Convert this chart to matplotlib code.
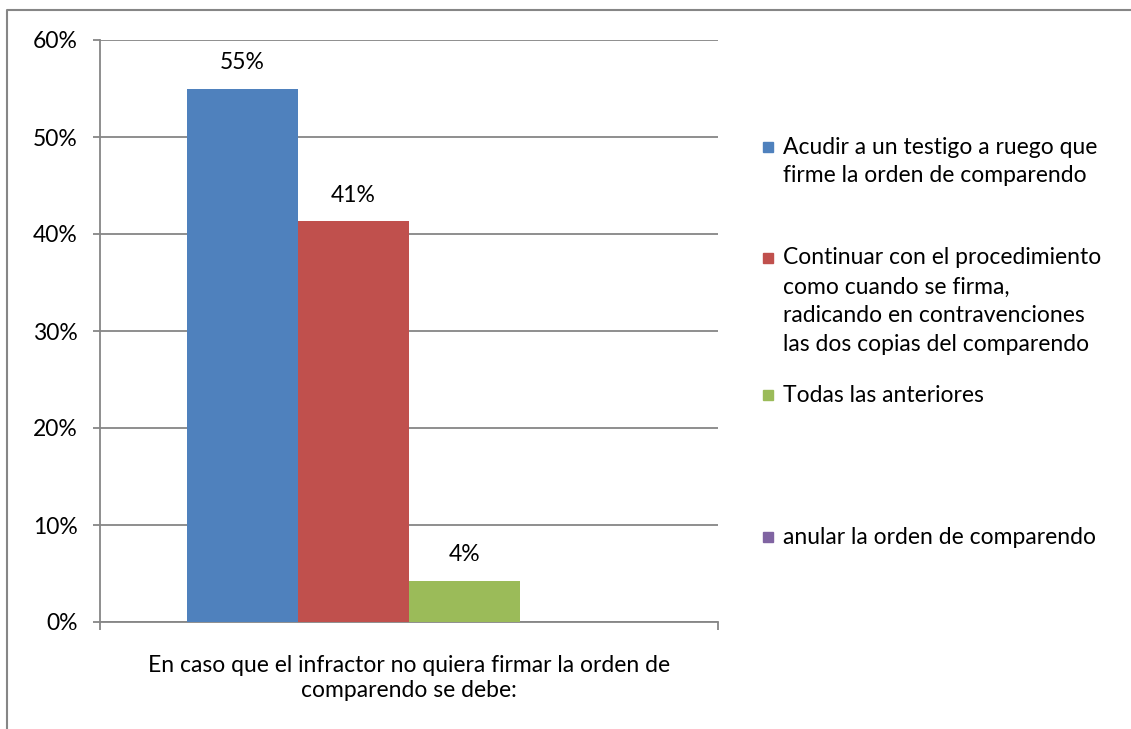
import matplotlib.pyplot as plt
from matplotlib.lines import Line2D
from matplotlib.patches import Rectangle

plt.rcParams['font.family'] = ['Lato', 'DejaVu Sans']

# data
series = [
    "Acudir a un testigo a ruego que\nfirme la orden de comparendo",
    "Continuar con el procedimiento\ncomo cuando se firma,\nradicando en contravenciones\nlas dos copias del comparendo",
    "Todas las anteriores",
    "anular la orden de comparendo",
]
values = [55.0, 41.3, 4.2, 0.0]
colors = ["#4f81bd", "#c0504d", "#9bbb59", "#8064a2"]
category = "En caso que el infractor no quiera firmar la orden de\ncomparendo se debe:"
yticks = [0, 10, 20, 30, 40, 50, 60]

W, H = 1131, 729
fs = 16.5
grey = "#868686"

fig = plt.figure(figsize=(W / 100, H / 100), dpi=100)
ax = fig.add_axes([100 / W, 1 - 622 / H, 618 / W, 582 / H])

gap = 1.57
n = len(values)
bw = 1 / (n + gap)
for i, (v, c) in enumerate(zip(values, colors)):
    x0 = gap / 2 * bw + i * bw
    ax.bar(x0, v, width=bw, align="edge", color=c, zorder=3)
    if v > 0:
        ax.annotate(f"{v:.0f}%", (x0 + bw / 2, v), xytext=(0, 19), textcoords="offset points",
                    ha="center", va="center", fontsize=fs, color="black")

ax.set_xlim(0, 1)
ax.set_ylim(0, 60)
ax.set_yticks(yticks)
ax.set_yticklabels([f"{t}%" for t in yticks], fontsize=fs)
ax.yaxis.grid(True, color=grey, linewidth=1.3, zorder=0)
ax.set_xticks([0, 1])
ax.set_xticklabels([])
ax.tick_params(axis="y", direction="out", length=5, color=grey, width=1.3, pad=11)
ax.tick_params(axis="x", direction="out", length=6, color=grey, width=1.3)
for s in ["top", "right"]:
    ax.spines[s].set_visible(False)
for s in ["left", "bottom"]:
    ax.spines[s].set_color(grey)
    ax.spines[s].set_linewidth(1.3)
ax.set_xlabel(category, fontsize=fs, labelpad=14, linespacing=1.25)

# legend, placed like the Excel one
leg_y = [147, 258, 395, 537]
for lab, c, y in zip(series, colors, leg_y):
    fig.add_artist(Rectangle((763 / W, 1 - (y + 5) / H), 10 / W, 10 / H,
                             transform=fig.transFigure, color=c))
    for k, line in enumerate(lab.split("\n")):
        fig.text(783 / W, 1 - (y + 29 * k) / H, line, fontsize=fs, va="center", ha="left")

# outer chart border
fig.add_artist(Line2D([7 / W, 7 / W, 1.0], [0, 1 - 10 / H, 1 - 10 / H],
                      transform=fig.transFigure, color=grey, linewidth=1.5))

fig.savefig("out.png", dpi=100)
